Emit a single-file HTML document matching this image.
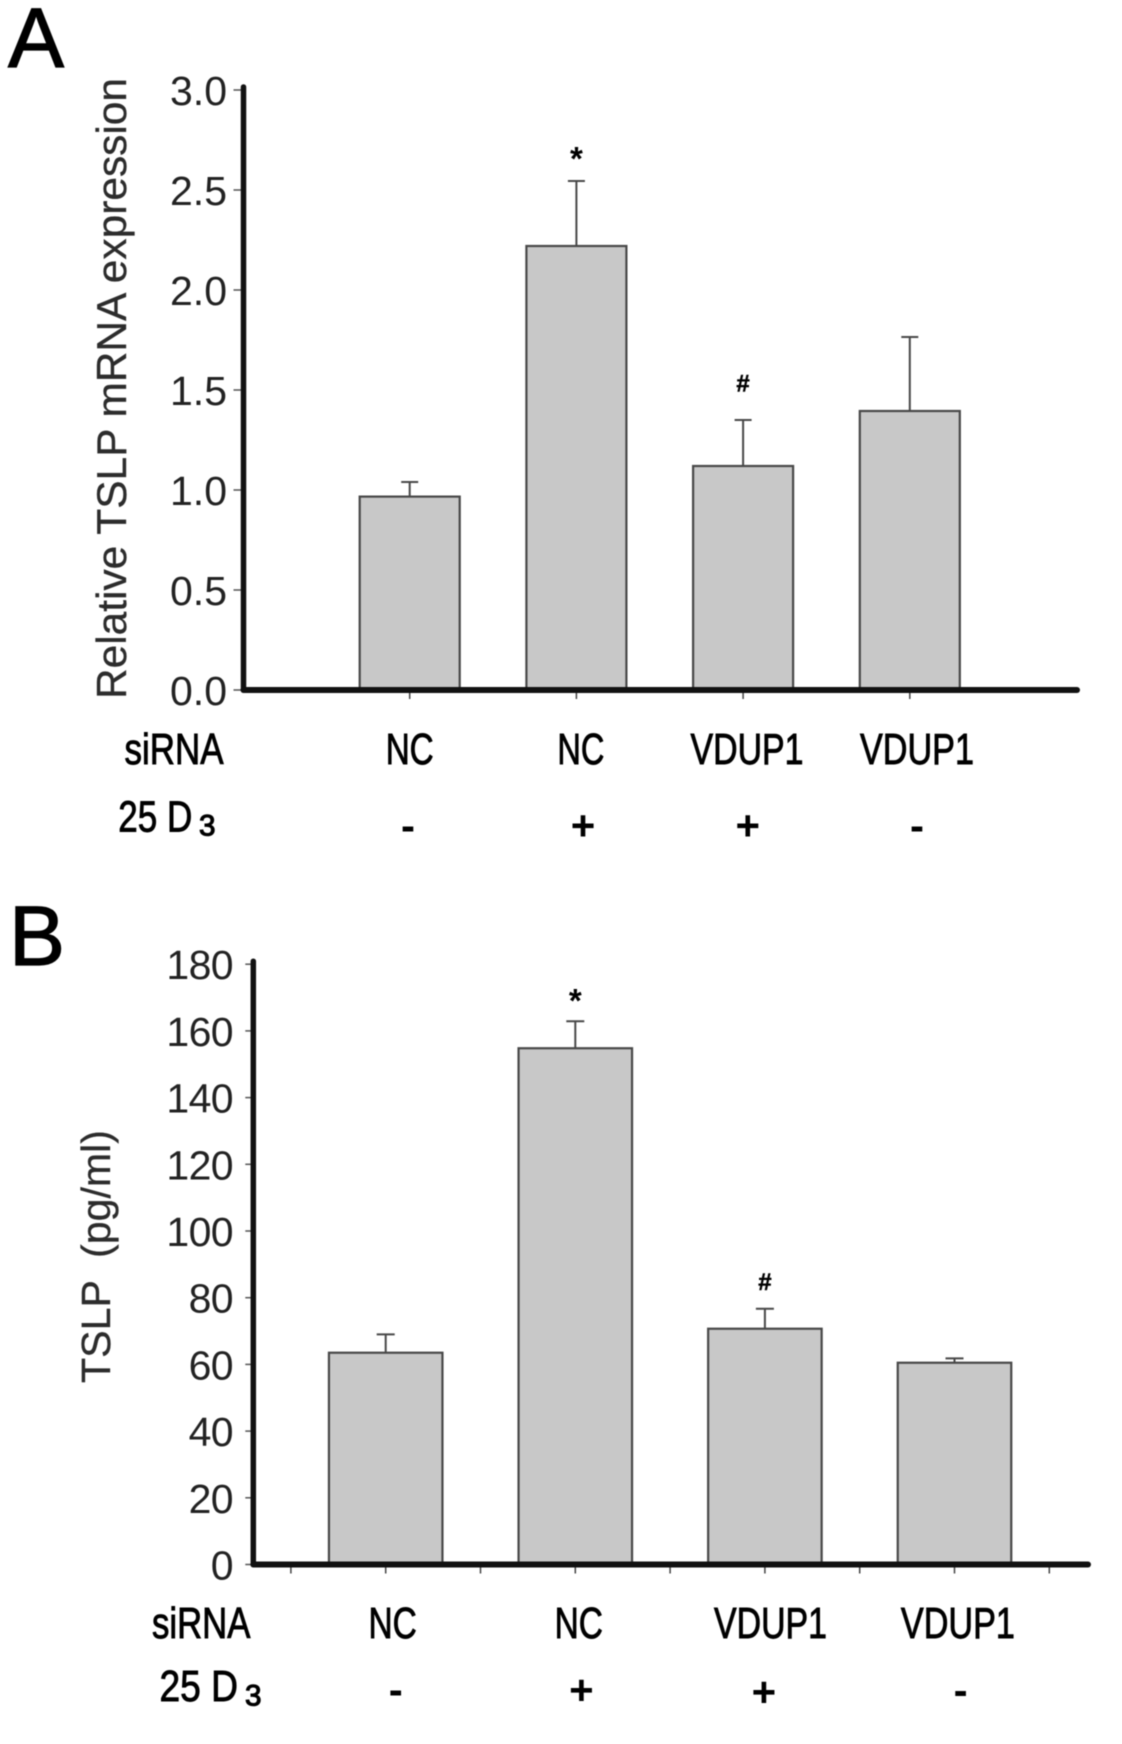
<!DOCTYPE html>
<html lang="en">
<head>
<meta charset="utf-8">
<title>TSLP expression bar charts</title>
<style>
  html, body { margin: 0; padding: 0; background: #fff; }
  svg { display: block; filter: blur(0.45px); }
  text { font-family: "Liberation Sans", sans-serif; }
  .row { font-size: 44px; fill: #000; stroke: #000; stroke-width: 0.9px; }
  .sym { font-size: 42px; font-weight: bold; fill: #000; text-anchor: middle; }
  .sub { font-size: 30px; fill: #000; stroke: #000; stroke-width: 1.1px; }
  .panel { font-size: 84px; fill: #000; stroke: #000; stroke-width: 1.2px; }
  .ytitle { fill: #2c2c2c; stroke: #2c2c2c; stroke-width: 0.3px; }
</style>
</head>
<body>
<svg id="figure" xmlns="http://www.w3.org/2000/svg" width="1122" height="1744" viewBox="0 0 1122 1744">
  <rect x="0" y="0" width="1122" height="1744" fill="#fff"/>

  <g id="chart-a"></g>
  <g id="chart-b"></g>

  <text class="panel" x="8" y="67">A</text>
  <text class="panel" x="9" y="965">B</text>

  <text class="ytitle" font-size="42" transform="translate(126,699) rotate(-90)" textLength="621" lengthAdjust="spacingAndGlyphs">Relative TSLP mRNA expression</text>
  <text class="ytitle" font-size="41" xml:space="preserve" transform="translate(110,1383) rotate(-90)" textLength="253" lengthAdjust="spacingAndGlyphs">TSLP  (pg/ml)</text>

  <g>
    <text class="row" x="124.5" y="764" textLength="99" lengthAdjust="spacingAndGlyphs">siRNA</text>
    <text class="row" x="385.7" y="764" textLength="48" lengthAdjust="spacingAndGlyphs">NC</text>
    <text class="row" x="557.4" y="764" textLength="47" lengthAdjust="spacingAndGlyphs">NC</text>
    <text class="row" x="690.5" y="764" textLength="113" lengthAdjust="spacingAndGlyphs">VDUP1</text>
    <text class="row" x="860" y="764" textLength="114" lengthAdjust="spacingAndGlyphs">VDUP1</text>
    <text class="row" x="118.3" y="831.7" textLength="74" lengthAdjust="spacingAndGlyphs">25 D</text>
    <text class="sub" x="199" y="835.5" textLength="16.5" lengthAdjust="spacingAndGlyphs">3</text>
    <text class="sym" x="408" y="840">-</text>
    <text class="sym" x="583" y="840">+</text>
    <text class="sym" x="747.8" y="840">+</text>
    <text class="sym" x="917" y="840">-</text>
  </g>

  <g>
    <text class="row" x="152" y="1638" textLength="98.4" lengthAdjust="spacingAndGlyphs">siRNA</text>
    <text class="row" x="368.5" y="1638" textLength="48.3" lengthAdjust="spacingAndGlyphs">NC</text>
    <text class="row" x="554.6" y="1638" textLength="48.3" lengthAdjust="spacingAndGlyphs">NC</text>
    <text class="row" x="714" y="1638" textLength="113" lengthAdjust="spacingAndGlyphs">VDUP1</text>
    <text class="row" x="900.9" y="1638" textLength="114" lengthAdjust="spacingAndGlyphs">VDUP1</text>
    <text class="row" x="159.5" y="1701" textLength="78.5" lengthAdjust="spacingAndGlyphs">25 D</text>
    <text class="sub" x="245" y="1705.7" textLength="16.5" lengthAdjust="spacingAndGlyphs">3</text>
    <text class="sym" x="395.7" y="1704">-</text>
    <text class="sym" x="581.4" y="1704.6">+</text>
    <text class="sym" x="763.9" y="1706.4">+</text>
    <text class="sym" x="960.6" y="1704.7">-</text>
  </g>
</svg>

<script>
// Chart A values
const categoriesA = ["NC -", "NC +", "VDUP1 +", "VDUP1 -"];
const valuesA = [0.967, 2.22, 1.12, 1.395];
const errorTopsA = [1.04, 2.545, 1.35, 1.765];
const markersA = ["", "*", "#", ""];
const tickValuesA = [0, 0.5, 1, 1.5, 2, 2.5, 3];
const tickLabelsA = ["0.0", "0.5", "1.0", "1.5", "2.0", "2.5", "3.0"];

// Chart B values
const categoriesB = ["NC -", "NC +", "VDUP1 +", "VDUP1 -"];
const valuesB = [63.5, 154.8, 70.7, 60.5];
const errorTopsB = [69, 162.9, 76.7, 61.8];
const markersB = ["", "*", "#", ""];
const tickValuesB = [0, 20, 40, 60, 80, 100, 120, 140, 160, 180];
const tickLabelsB = ["0", "20", "40", "60", "80", "100", "120", "140", "160", "180"];

const NS = "http://www.w3.org/2000/svg";

function make(tag, attrs, parent, content) {
  const node = document.createElementNS(NS, tag);
  Object.keys(attrs).forEach(function (k) { node.setAttribute(k, attrs[k]); });
  if (content !== undefined) node.textContent = content;
  parent.appendChild(node);
  return node;
}

function drawChart(root, cfg) {
  const yScale = function (v) { return cfg.y0 - (v - cfg.yMin) * cfg.yPerUnit; };
  const xScale = function (i) { return cfg.xFirst + i * cfg.xStep; };
  const yTop = yScale(cfg.yMax);

  // bars and error bars
  cfg.categories.forEach(function (cat, i) {
    const cx = xScale(i);
    const top = yScale(cfg.values[i]);
    const errY = yScale(cfg.errorTops[i]);

    const err = make("line", { x1: cx, x2: cx, y1: top, y2: errY, stroke: "#484848", "stroke-width": 2 }, root);
    
    

    const cap = make("line", { x1: cx - cfg.capHalf, x2: cx + cfg.capHalf, y1: errY, y2: errY, stroke: "#484848", "stroke-width": 2 }, root);
    
    

    const bar = make("rect", {
      x: cx - cfg.barW / 2, y: top, width: cfg.barW, height: cfg.y0 - top,
      fill: "#c8c8c8", stroke: "#484848", "stroke-width": 2.2
    }, root);
    
    

    const mark = cfg.markers[i];
    if (mark === "*") {
      const star = make("text", { x: cx, y: errY - cfg.starGap, "font-size": 33, "font-weight": "bold", "text-anchor": "middle", fill: "#000" }, root, mark);
      
      
    } else if (mark === "#") {
      const hash = make("text", { x: cx, y: errY - cfg.hashGap, "font-size": 24, "font-weight": "bold", "text-anchor": "middle", fill: "#000", stroke: "#000", "stroke-width": 0.5 }, root, mark);
      
      
    }
  });

  // y ticks and labels
  cfg.tickValues.forEach(function (v, i) {
    const ty = yScale(v);
    const tick = make("line", { x1: cfg.axisX - cfg.tickLen, x2: cfg.axisX, y1: ty, y2: ty, stroke: "#555", "stroke-width": 1.5 }, root);
    
    

    const label = make("text", {
      x: cfg.labelRight, y: ty + 15, "font-size": 41, "text-anchor": "end", fill: "#222",
      "letter-spacing": cfg.tickSpacing
    }, root, cfg.tickLabels[i]);
    
    
  });

  // x ticks: one per half-step when minor ticks are on, otherwise one per category
  const divisions = cfg.minorTicks ? 2 : 1;
  const first = cfg.minorTicks ? -1 : 0;
  const last = cfg.minorTicks ? cfg.categories.length * 2 - 1 : cfg.categories.length - 1;
  for (let k = first; k <= last; k++) {
    const tx = cfg.xFirst + k * cfg.xStep / divisions;
    const xt = make("line", { x1: tx, x2: tx, y1: cfg.y0, y2: cfg.y0 + 9, stroke: "#444", "stroke-width": 1.5 }, root);
    
    
  }

  // axes on top
  const yAxis = make("line", { x1: cfg.axisX, x2: cfg.axisX, y1: yTop - 3, y2: cfg.y0, stroke: "#111", "stroke-width": 5.5, "stroke-linecap": "round" }, root);
  
  

  const xAxis = make("line", { x1: cfg.axisX, x2: cfg.axisEnd, y1: cfg.y0, y2: cfg.y0, stroke: "#111", "stroke-width": 6, "stroke-linecap": "round" }, root);
  
  
}

drawChart(document.getElementById("chart-a"), {
  categories: categoriesA, values: valuesA, errorTops: errorTopsA, markers: markersA,
  tickValues: tickValuesA, tickLabels: tickLabelsA,
  yMin: 0, yMax: 3, y0: 690, yPerUnit: 200,
  xFirst: 409.7, xStep: 166.7, barW: 100, capHalf: 8.5,
  axisX: 243.5, axisEnd: 1077, tickLen: 10, labelRight: 227, tickSpacing: "0",
  starGap: 11, hashGap: 28.5, minorTicks: false
});

drawChart(document.getElementById("chart-b"), {
  categories: categoriesB, values: valuesB, errorTops: errorTopsB, markers: markersB,
  tickValues: tickValuesB, tickLabels: tickLabelsB,
  yMin: 0, yMax: 180, y0: 1564.5, yPerUnit: 3.335,
  xFirst: 385.7, xStep: 189.6, barW: 113.5, capHalf: 9,
  axisX: 253.3, axisEnd: 1088, tickLen: 8, labelRight: 233, tickSpacing: "-0.6",
  starGap: 9, hashGap: 18.5, minorTicks: true
});
</script>
</body>
</html>
